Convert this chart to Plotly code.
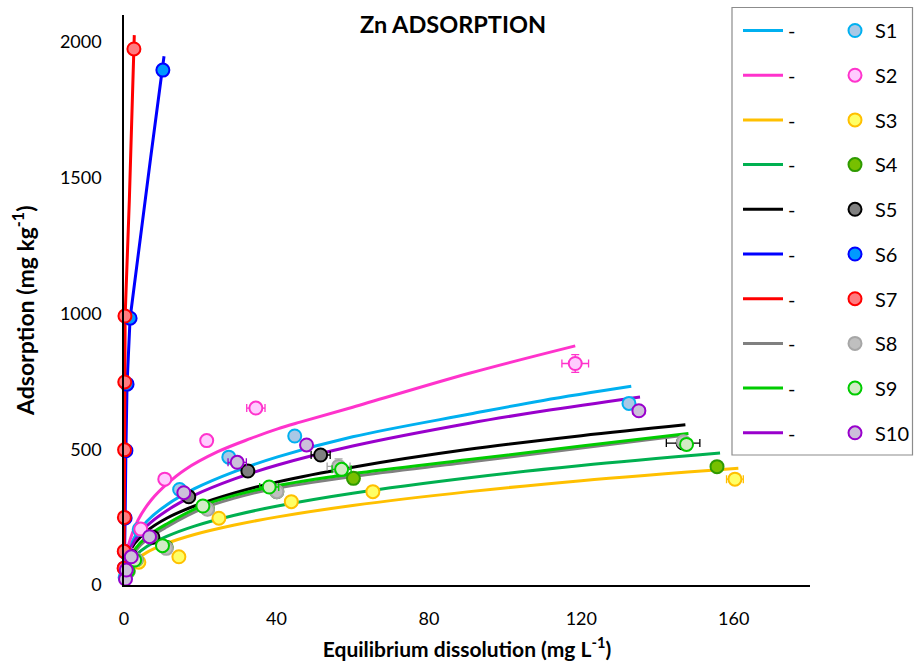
import plotly.graph_objects as go

# ---------------- data ----------------
SOILS = ["S1", "S2", "S3", "S4", "S5", "S6", "S7", "S8", "S9", "S10"]

# measured points: equilibrium concentration Ce (mg/L) and adsorption q (mg/kg)
S1_CE = [0.3, 1.2, 4.0, 14.6, 27.5, 44.8, 132.5]
S1_Q = [28, 112, 205, 352, 471, 549, 669]
S2_CE = [0.5, 1.2, 4.4, 10.7, 21.7, 34.6, 118.4]
S2_Q = [57, 113, 206, 390, 532, 652, 816]
S3_CE = [1.0, 3.9, 14.4, 24.9, 43.9, 65.3, 160.3]
S3_Q = [52, 84, 104, 246, 307, 344, 390]
S4_CE = [1.1, 3.2, 11.1, 21.9, 40.1, 60.2, 155.6]
S4_Q = [51, 93, 139, 281, 344, 393, 436]
S5_CE = [0.6, 2.0, 7.6, 17.0, 32.5, 51.6, 146.7]
S5_Q = [56, 105, 176, 325, 420, 479, 523]
S6_CE = [0.1, 0.15, 0.3, 0.5, 0.8, 1.6, 10.2]
S6_Q = [62, 123, 247, 495, 740, 983, 1897]
S7_CE = [0.03, 0.05, 0.1, 0.15, 0.2, 0.25, 2.6]
S7_Q = [62, 124, 249, 498, 748, 991, 1975]
S8_CE = [1.1, 3.2, 11.1, 21.9, 40.1, 56.3, 146.8]
S8_Q = [51, 93, 135, 279, 344, 437, 528]
S9_CE = [1.0, 2.8, 10.1, 20.7, 38.1, 57.1, 147.6]
S9_Q = [52, 92, 145, 291, 361, 426, 518]
S10_CE = [0.4, 0.6, 1.9, 6.7, 15.7, 29.7, 47.9, 135.1]
S10_Q = [22, 55, 104, 178, 340, 452, 516, 642]

# error bars (half widths) on the measured points
S1_EX = [0, 0, 0, 0, 0, 0, 0]
S1_EY = [0, 0, 0, 0, 0, 0, 0]
S2_EX = [0, 0, 0, 0, 0, 2.4, 3.5]
S2_EY = [0, 0, 0, 0, 0, 0, 33]
S3_EX = [0, 0, 0, 0, 0.8, 0, 2.2]
S3_EY = [0, 0, 0, 0, 0, 0, 0]
S4_EX = [0, 0, 0, 0, 0, 0, 0]
S4_EY = [0, 0, 0, 0, 0, 0, 0]
S5_EX = [0, 0, 0, 0, 1.2, 2.5, 4.4]
S5_EY = [0, 0, 0, 0, 0, 0, 0]
S6_EX = [0, 0, 0, 0, 0, 0, 0]
S6_EY = [0, 0, 0, 0, 0, 0, 0]
S7_EX = [0, 0, 0, 0, 0, 0, 0]
S7_EY = [0, 0, 0, 0, 0, 0, 0]
S8_EX = [0, 0, 0, 0, 0, 3.0, 0]
S8_EY = [0, 0, 0, 0, 0, 28, 0]
S9_EX = [0, 0, 0, 0, 2.5, 2.5, 0]
S9_EY = [0, 0, 0, 0, 15, 15, 0]
S10_EX = [0, 0, 0, 0, 0, 2.4, 0, 1.5]
S10_EY = [0, 0, 0, 0, 0, 0, 0, 0]

# fitted isotherm curves
S1_FIT_CE = [0.1, 0.3, 1, 2.8, 6, 11.2, 18.5, 29, 40.3, 60, 90.8, 110, 133.1]
S1_FIT_Q = [52, 78, 122, 177, 235, 295, 355, 418, 472, 546, 630, 680, 732]
S2_FIT_CE = [0.1, 0.3, 1.05, 3.67, 7.15, 11.5, 15.9, 24.6, 33.3, 40.3, 46.2, 60, 90.6, 118.4]
S2_FIT_Q = [55, 85, 141, 239, 313, 375, 424, 491, 540, 575, 600, 655, 780, 881]
S3_FIT_CE = [0.1, 0.3, 1, 2.8, 6, 11.2, 18.5, 29, 40.3, 60, 90.6, 120, 161.2]
S3_FIT_Q = [24, 38, 60, 89, 120, 153, 186, 221, 251, 293, 344, 384, 430]
S4_FIT_CE = [0.1, 0.3, 1, 2.8, 6, 11.2, 18.5, 29, 40.3, 60, 90.6, 120, 156.4]
S4_FIT_Q = [30, 46, 72, 106, 142, 179, 217, 257, 291, 338, 395, 440, 486]
S5_FIT_CE = [0.1, 0.3, 1, 2.8, 6, 11.2, 18.5, 29, 40.3, 60, 90, 120, 147.3]
S5_FIT_Q = [49, 72, 108, 153, 199, 246, 291, 339, 380, 434, 499, 550, 590]
S6_FIT_CE = [0, 0.1, 0.3, 0.5, 0.8, 1.6, 4, 7, 10.5]
S6_FIT_Q = [0, 62, 247, 495, 740, 983, 1250, 1575, 1948]
S7_FIT_CE = [0, 0.03, 0.1, 0.2, 0.3, 1.4, 2.7]
S7_FIT_Q = [0, 62, 249, 748, 991, 1418, 2026]
S8_FIT_CE = [0.1, 0.3, 1, 2.8, 6, 11.2, 20.7, 29, 38.2, 60, 90.6, 120, 147]
S8_FIT_Q = [28, 47, 80, 122, 168, 214, 282, 320, 352, 400, 453, 505, 552]
S9_FIT_CE = [0.1, 0.3, 1, 2.8, 6, 11.2, 20.7, 29, 38.2, 60, 90.6, 120, 148.1]
S9_FIT_Q = [30, 50, 85, 130, 178, 225, 293, 330, 361, 410, 462, 512, 558]
S10_FIT_CE = [0.1, 0.3, 1, 2.8, 6, 11.2, 18.5, 29, 40.3, 60, 90.6, 110, 135.4]
S10_FIT_Q = [48, 72, 112, 164, 218, 274, 331, 391, 442, 512, 596, 641, 693]

X_TICKS = [0, 40, 80, 120, 160]
Y_TICKS = [0, 500, 1000, 1500, 2000]

# ---------------- styles ----------------
LINE_COLORS = ["#00B0F0", "#FF33CC", "#FFC000", "#00B050", "#000000",
               "#0000FF", "#FF0000", "#808080", "#00CC00", "#9900CC"]
FILL_COLORS = ["#A9C8E6", "#FFCCFF", "#FFFF66", "#77C000", "#808080",
               "#0099FF", "#FF7C80", "#BFBFBF", "#D3EBC6", "#CCC0DA"]
EDGE_COLORS = ["#00B0F0", "#FF33CC", "#FFC000", "#2E9A00", "#000000",
               "#0000FF", "#FF0000", "#A6A6A6", "#00CC00", "#9900CC"]

points = [(S1_CE, S1_Q, S1_EX, S1_EY), (S2_CE, S2_Q, S2_EX, S2_EY),
          (S3_CE, S3_Q, S3_EX, S3_EY), (S4_CE, S4_Q, S4_EX, S4_EY),
          (S5_CE, S5_Q, S5_EX, S5_EY), (S6_CE, S6_Q, S6_EX, S6_EY),
          (S7_CE, S7_Q, S7_EX, S7_EY), (S8_CE, S8_Q, S8_EX, S8_EY),
          (S9_CE, S9_Q, S9_EX, S9_EY), (S10_CE, S10_Q, S10_EX, S10_EY)]
fits = [(S1_FIT_CE, S1_FIT_Q), (S2_FIT_CE, S2_FIT_Q), (S3_FIT_CE, S3_FIT_Q),
        (S4_FIT_CE, S4_FIT_Q), (S5_FIT_CE, S5_FIT_Q), (S6_FIT_CE, S6_FIT_Q),
        (S7_FIT_CE, S7_FIT_Q), (S8_FIT_CE, S8_FIT_Q), (S9_FIT_CE, S9_FIT_Q),
        (S10_FIT_CE, S10_FIT_Q)]

FONT = "Lato, 'Open Sans', sans-serif"

fig = go.Figure()

# fitted curves (first legend, labelled "-")
for i, s in enumerate(SOILS):
    fx, fy = fits[i]
    fig.add_trace(go.Scatter(
        x=fx, y=fy, mode="lines", name="-", legend="legend", legendgroup=s,
        line=dict(color=LINE_COLORS[i], width=3,
                  shape="linear" if s in ("S6", "S7") else "spline"),
        hoverinfo="skip", cliponaxis=False))

# measured points (second legend)
for i, s in enumerate(SOILS):
    px, py, ex, ey = points[i]
    fig.add_trace(go.Scatter(
        x=px, y=py, mode="markers", name=s, legend="legend2", legendgroup=s,
        marker=dict(size=13, color=FILL_COLORS[i],
                    line=dict(color=EDGE_COLORS[i], width=2)),
        error_x=dict(type="data", array=ex, visible=any(ex), color=EDGE_COLORS[i],
                     thickness=1.3, width=4),
        error_y=dict(type="data", array=ey, visible=any(ey), color=EDGE_COLORS[i],
                     thickness=1.3, width=4),
        cliponaxis=False))

W, H = 914, 667
L, R, T, B = 124, 104, 15, 82
pw, ph = W - L - R, H - T - B


def px2paper_x(p):
    return (p - L) / pw


def px2paper_y(p):
    return (H - B - p) / ph


fig.add_shape(type="rect", xref="paper", yref="paper",
              x0=px2paper_x(732), x1=px2paper_x(912.5),
              y0=px2paper_y(455), y1=px2paper_y(7.5),
              line=dict(color="#8C8C8C", width=1.2), fillcolor="white", layer="below")

# y-axis title (placed as in the reference, slightly below the axis centre)
fig.add_annotation(text="<b>Adsorption (mg kg<sup>-1</sup>)</b>", textangle=-90,
                   xref="paper", yref="paper", x=px2paper_x(23), y=px2paper_y(311),
                   xanchor="center", yanchor="middle", showarrow=False,
                   font=dict(family=FONT, size=23, color="black"))

legend_common = dict(xanchor="left", yanchor="top", bgcolor="rgba(0,0,0,0)",
                     borderwidth=0, font=dict(family=FONT, size=20, color="black"),
                     tracegroupgap=15.7, traceorder="grouped", maxheight=2000)

fig.update_layout(
    width=W, height=H,
    margin=dict(l=L, r=R, t=T, b=B, autoexpand=False),
    paper_bgcolor="white", plot_bgcolor="white",
    font=dict(family=FONT, color="black"),
    title=dict(text="<b>Zn ADSORPTION</b>", x=453 / W, y=1 - 25 / H,
               xref="container", yref="container", xanchor="center", yanchor="middle",
               font=dict(family=FONT, size=23.5, color="black")),
    xaxis=dict(range=[0, 180], tickvals=X_TICKS, showgrid=False, zeroline=False,
               showline=True, linecolor="black", linewidth=1.5, ticks="",
               ticklabelstandoff=17, automargin=False,
               tickfont=dict(family=FONT, size=18, color="black"),
               title=dict(text="<b>Equilibrium dissolution (mg L<sup>-1</sup>)</b>",
                          font=dict(family=FONT, size=21, color="black"), standoff=14)),
    yaxis=dict(range=[0, 2100], tickvals=Y_TICKS, showgrid=False, zeroline=False,
               showline=True, linecolor="black", linewidth=1.5, ticks="",
               ticklabelstandoff=17, automargin=False,
               tickfont=dict(family=FONT, size=18, color="black")),
    legend=dict(x=px2paper_x(738), y=px2paper_y(11), itemwidth=40, **legend_common),
    legend2=dict(x=px2paper_x(835), y=px2paper_y(11), **legend_common),
    showlegend=True,
)

fig.write_html("out.html")
